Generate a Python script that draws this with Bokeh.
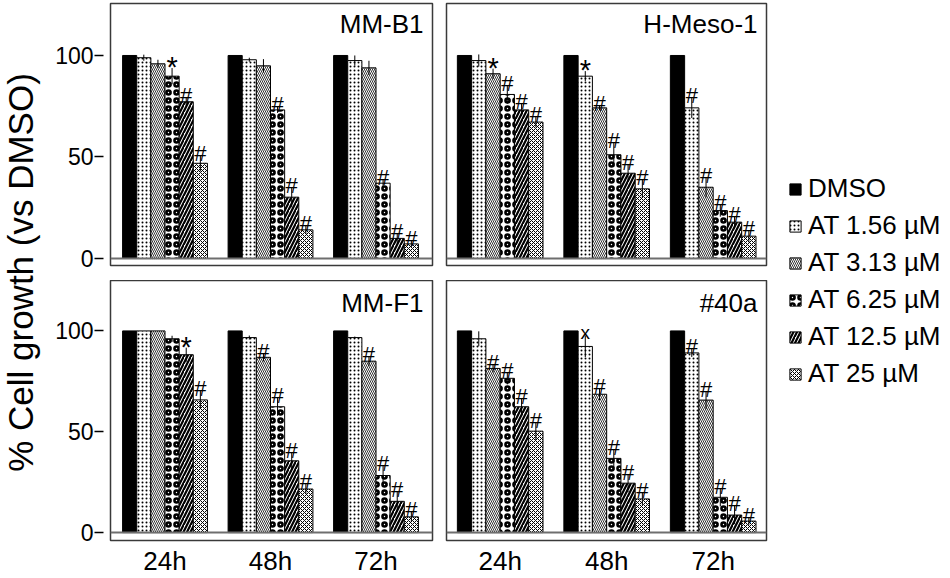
from bokeh.plotting import figure
from bokeh.models import (Range1d, FixedTicker, Label, Legend, LegendItem,
                          ColumnDataSource, Span)
from bokeh.layouts import row, column
from bokeh.embed import file_html
from bokeh.resources import INLINE
from bokeh.core.properties import value

# ---------------- data ----------------
time_points = ["24h", "48h", "72h"]
treatments = ["DMSO", "AT 1.56 µM", "AT 3.13 µM", "AT 6.25 µM", "AT 12.5 µM", "AT 25 µM"]
y_ticks = [0, 50, 100]
y_title = "% Cell growth (vs DMSO)"

# rows = time points, columns = treatments
mmb1_name = "MM-B1"
mmb1_mean = [[100, 98.9, 95.9, 89.8, 77.2, 46.9],
             [100, 97.9, 94.9, 73.2, 30.2, 14.1],
             [100, 97.5, 93.9, 37.1, 9.9, 7.2]]
mmb1_err = [[0, 1.5, 2.0, 4.0, 2.0, 4.0],
            [0, 1.0, 3.3, 1.5, 5.0, 2.0],
            [0, 2.5, 3.5, 2.0, 2.5, 1.5]]
mmb1_sig = [["", "", "", "*", "#", "#"],
            ["", "", "", "#", "#", "#"],
            ["", "", "", "#", "#", "#"]]

hmeso1_name = "H-Meso-1"
hmeso1_mean = [[100, 97.5, 91.0, 80.8, 73.2, 67.2],
               [100, 89.8, 74.2, 51.1, 42.0, 34.3],
               [100, 74.2, 35.1, 23.6, 17.9, 11.0]]
hmeso1_err = [[0, 3.0, 2.5, 4.5, 3.0, 2.5],
              [0, 2.5, 1.0, 6.0, 4.5, 4.5],
              [0, 5.0, 5.0, 3.0, 3.0, 3.0]]
hmeso1_sig = [["", "", "*", "#", "#", "#"],
              ["", "*", "#", "#", "#", "#"],
              ["", "#", "#", "#", "#", "#"]]

mmf1_name = "MM-F1"
mmf1_mean = [[100, 100, 100, 96.1, 88.2, 65.8],
             [100, 96.7, 86.9, 62.4, 35.6, 21.6],
             [100, 96.7, 85.0, 28.3, 15.5, 7.8]]
mmf1_err = [[0, 0, 0, 1.5, 3.5, 4.5],
            [0, 1.0, 2.0, 4.5, 4.0, 2.5],
            [0, 0.5, 2.5, 5.0, 5.0, 2.5]]
mmf1_sig = [["", "", "", "", "*", "#"],
            ["", "", "#", "#", "#", "#"],
            ["", "", "#", "#", "#", "#"]]

a40_name = "#40a"
a40_mean = [[100, 96.1, 81.4, 76.5, 62.4, 50.3],
            [100, 92.3, 68.6, 36.8, 24.5, 16.7],
            [100, 89.1, 65.7, 17.5, 8.7, 5.7]]
a40_err = [[0, 3.7, 2.0, 3.0, 4.0, 4.5],
           [0, 5.3, 3.0, 4.5, 4.5, 3.0],
           [0, 2.0, 4.5, 4.5, 4.5, 2.0]]
a40_sig = [["", "", "#", "#", "#", "#"],
           ["", "x", "#", "#", "#", "#"],
           ["", "#", "#", "#", "#", "#"]]

# ---------------- styles ----------------
FONT = "Liberation Sans"
bar_styles = [
    dict(fill_color="black"),
    dict(fill_color="white", hatch_pattern="dot", hatch_scale=4, hatch_weight=0.6, hatch_color="black"),
    dict(fill_color="white", hatch_pattern="left_diagonal_line", hatch_scale=4, hatch_weight=0.8, hatch_color="black"),
    dict(fill_color="white", hatch_pattern="ring", hatch_scale=8, hatch_weight=2.6, hatch_color="black"),
    dict(fill_color="white", hatch_pattern="right_diagonal_line", hatch_scale=7, hatch_weight=2.2, hatch_color="black"),
    dict(fill_color="white", hatch_pattern="diagonal_cross", hatch_scale=4, hatch_weight=1, hatch_color="black"),
]
sig_offsets = {"#": -2, "*": -1, "x": -3}
sig_sizes = {"#": "22px", "*": "29px", "x": "19px"}
BAR_W = 0.134
XR_LEFT = (0.4834, 3.5354)
XR_RIGHT = (0.496, 3.5007)
YR_TOP = (-3.45, 125.6)
YR_BOTTOM = (-3.92, 125.0)


def make_panel(name, means, errs, sigs, xr, yr, top_row, left_col):
    width = (66 + 322 + 7) if left_col else (7 + 320 + 3)
    height = (3 + 262 + 15) if top_row else (0 + 263 + 35)
    p = figure(width=width, height=height,
               x_range=Range1d(*xr), y_range=Range1d(*yr),
               output_backend="svg", toolbar_location=None,
               x_axis_location=None if top_row else "below",
               y_axis_location="left" if left_col else None,
               min_border_left=66 if left_col else 7,
               min_border_right=7 if left_col else 3,
               min_border_top=3 if top_row else 0,
               min_border_bottom=15 if top_row else 35)
    p.grid.grid_line_color = None
    p.outline_line_color = "#3a3a3a"
    p.outline_line_width = 1.5
    p.background_fill_color = "white"
    p.border_fill_color = "white"

    p.add_layout(Span(location=0, dimension="width", line_color="#6e6e6e", line_width=2))

    n = len(treatments)
    for i in range(n):
        xs = [g + 1 + (i - (n - 1) / 2) * BAR_W for g in range(len(time_points))]
        tops = [means[g][i] for g in range(len(time_points))]
        src = ColumnDataSource(dict(x=xs, top=tops))
        p.vbar(x="x", top="top", bottom=0, width=BAR_W, source=src,
               line_color="black", line_width=1, **bar_styles[i])

    ex, elo, ehi = [], [], []
    sx, sy, st, soff, ssize = [], [], [], [], []
    for g in range(len(time_points)):
        for i in range(n):
            x = g + 1 + (i - (n - 1) / 2) * BAR_W
            m, e, s = means[g][i], errs[g][i], sigs[g][i]
            if e > 0:
                ex.append(x); elo.append(m - e); ehi.append(m + e)
            if s:
                sx.append(x); sy.append(m + e); st.append(s)
                soff.append(sig_offsets[s]); ssize.append(sig_sizes[s])
    p.segment(x0=ex, y0=elo, x1=ex, y1=ehi, line_color="black", line_width=1)
    sig_src = ColumnDataSource(dict(x=sx, y=sy, text=st, off=soff, size=ssize))
    p.text(x="x", y="y", text="text", y_offset="off", text_font_size="size",
           source=sig_src, text_font=value(FONT), text_align="center",
           text_baseline="alphabetic", text_color="black")

    ppu = (322 if left_col else 320) / (xr[1] - xr[0])
    p.add_layout(Label(x=xr[1] - 9 / ppu, y=115.5 if top_row else 114.0, text=name,
                       text_font=FONT, text_font_size="26px", text_align="right",
                       text_baseline="middle", text_color="black"))

    if left_col:
        ax = p.yaxis[0]
        ax.ticker = FixedTicker(ticks=y_ticks)
        ax.minor_tick_line_color = None
        ax.axis_line_color = None
        ax.major_tick_in = -7
        ax.major_tick_out = 16
        ax.major_tick_line_color = "black"
        ax.major_tick_line_width = 1.5
        ax.major_label_standoff = 1
        ax.major_label_text_font = FONT
        ax.major_label_text_font_size = "23px"
        ax.major_label_text_color = "black"
    if not top_row:
        ax = p.xaxis[0]
        ax.ticker = FixedTicker(ticks=[1, 2, 3])
        ax.major_label_overrides = {i + 1: t for i, t in enumerate(time_points)}
        ax.minor_tick_line_color = None
        ax.major_tick_line_color = None
        ax.major_tick_in = 0
        ax.major_tick_out = 0
        ax.axis_line_color = None
        ax.major_label_standoff = 5
        ax.major_label_text_font = FONT
        ax.major_label_text_font_size = "26px"
        ax.major_label_text_color = "black"
    return p


p_tl = make_panel(mmb1_name, mmb1_mean, mmb1_err, mmb1_sig, XR_LEFT, YR_TOP, True, True)
p_tr = make_panel(hmeso1_name, hmeso1_mean, hmeso1_err, hmeso1_sig, XR_RIGHT, YR_TOP, True, False)
p_bl = make_panel(mmf1_name, mmf1_mean, mmf1_err, mmf1_sig, XR_LEFT, YR_BOTTOM, False, True)
p_br = make_panel(a40_name, a40_mean, a40_err, a40_sig, XR_RIGHT, YR_BOTTOM, False, False)

# y-axis title column
p_title = figure(width=44, height=578, x_range=Range1d(0, 44), y_range=Range1d(578, 0),
                 output_backend="svg", toolbar_location=None,
                 x_axis_location=None, y_axis_location=None, min_border=0,
                 outline_line_color=None)
p_title.grid.grid_line_color = None
p_title.add_layout(Label(x=20, y=272, text=y_title, angle=90, angle_units="deg",
                         text_font=FONT, text_font_size="35px", text_align="center",
                         text_baseline="middle", text_color="black"))

# legend column (legend-only renderers carry no drawable data)
p_leg = figure(width=177, height=578, x_range=Range1d(0, 1), y_range=Range1d(0, 1),
               output_backend="svg", toolbar_location=None,
               x_axis_location=None, y_axis_location=None, min_border=0,
               outline_line_color=None, border_fill_color="white",
               background_fill_color="white")
p_leg.grid.grid_line_color = None
items = []
for i, t in enumerate(treatments):
    r = p_leg.vbar(x=[0.5], top=[float("nan")], bottom=[float("nan")], width=0.1,
                   line_color="black", line_width=1, **bar_styles[i])
    items.append(LegendItem(label=t, renderers=[r]))
leg = Legend(items=items, location=(19, 189), orientation="vertical",
             label_text_font=FONT, label_text_font_size="26px", label_text_color="black",
             glyph_width=14, glyph_height=14, label_standoff=6, spacing=6, label_height=31,
             padding=0, margin=0, border_line_color=None, background_fill_alpha=0)
p_leg.add_layout(leg)

layout = row(p_title, column(row(p_tl, p_tr), row(p_bl, p_br)), p_leg)

with open("out.html", "w") as f:
    f.write(file_html(layout, INLINE))
